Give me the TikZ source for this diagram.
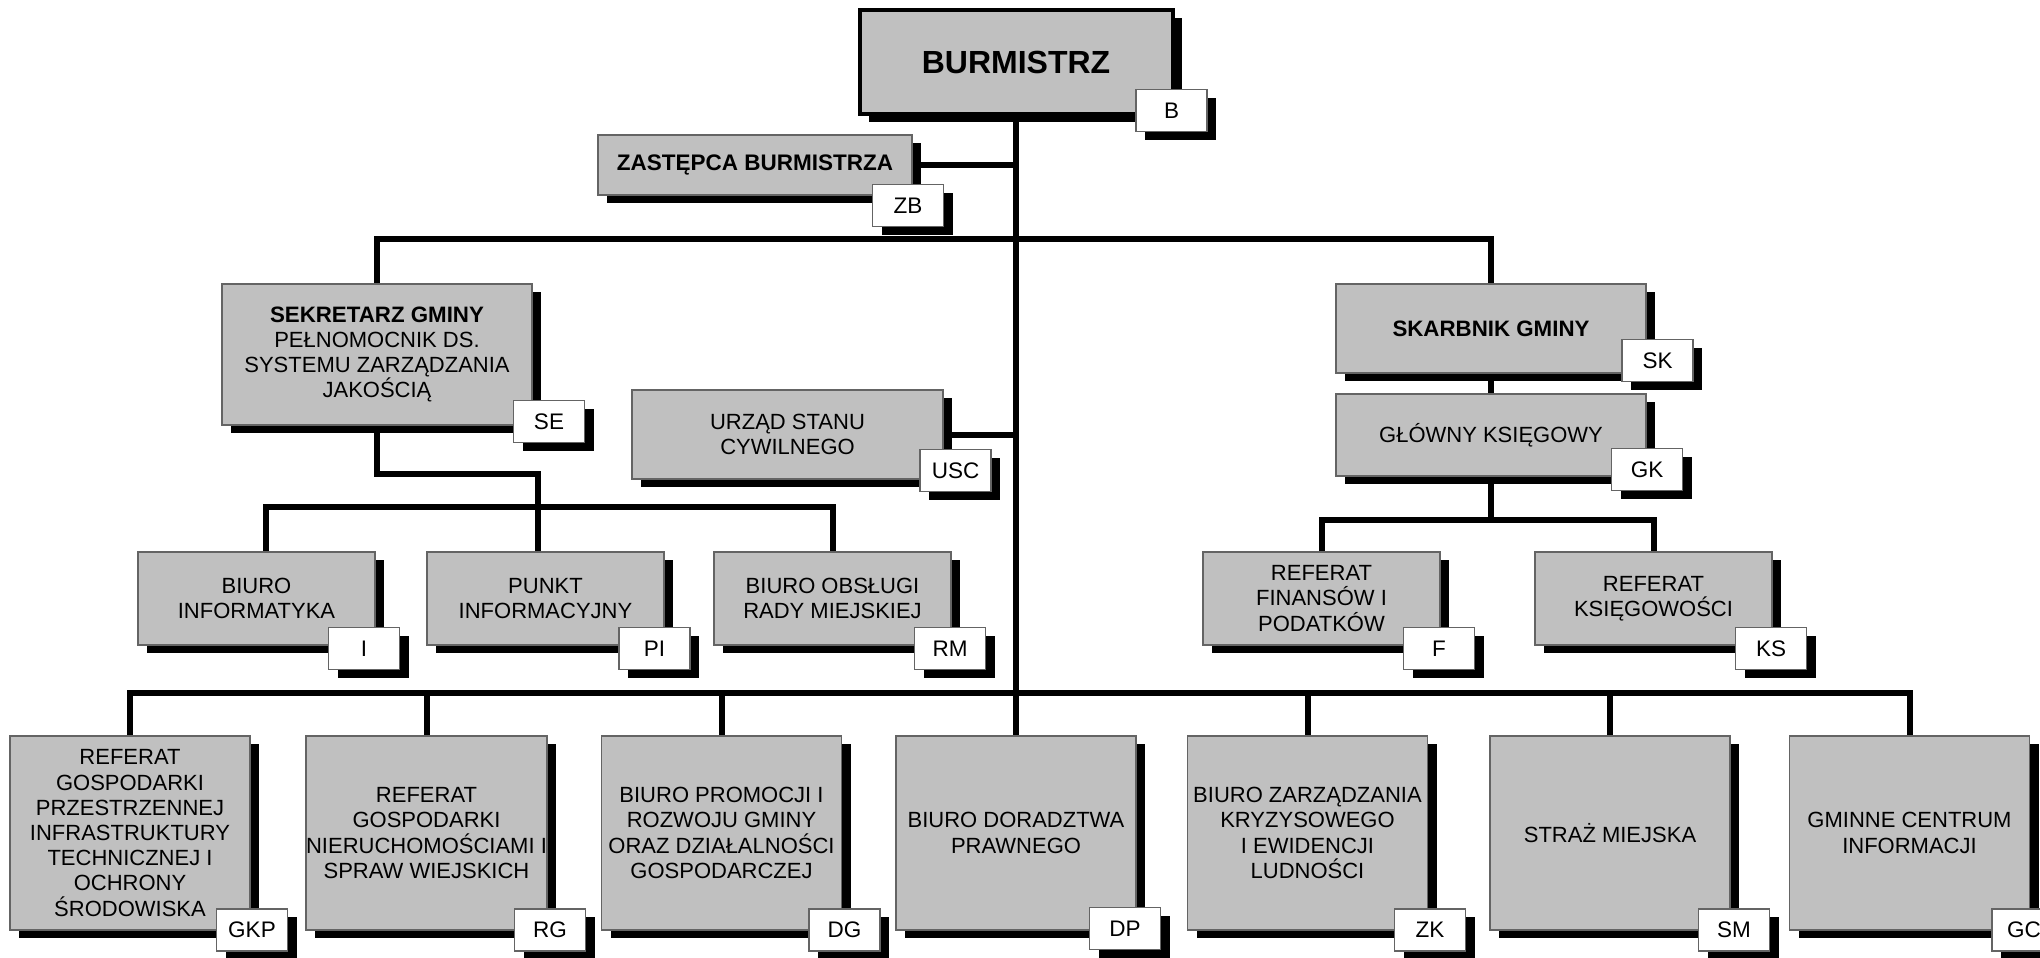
\documentclass[tikz,border=0pt]{standalone}
\usepackage{fontspec}
\setmainfont{Liberation Sans}
\usetikzlibrary{shadows,backgrounds}
\definecolor{boxgray}{RGB}{192,192,192}
\definecolor{edgegray}{RGB}{100,100,100}
\begin{document}
\begin{tikzpicture}[x=1pt,y=-1pt,
  shad/.style={drop shadow={shadow xshift=9pt,shadow yshift=-8pt,fill=black,opacity=1}},
  unit/.style={shad,rectangle,fill=boxgray,draw=edgegray,line width=1.5pt,inner sep=0pt,
    align=center,font=\fontsize{22}{25.2}\selectfont},
  headbox/.style={unit,draw=black,line width=4pt},
  lab/.style={shad,rectangle,fill=white,draw=edgegray,line width=1.5pt,inner sep=0pt,
    minimum width=71pt,minimum height=42pt,font=\fontsize{22.5}{25}\selectfont},
  row2/.style={unit,minimum width=237pt,minimum height=93pt},
  row3/.style={unit,minimum width=240pt,minimum height=194pt},
  conn/.style={line width=6pt,black,line join=miter},
  bfh/.style={font=\fontsize{22.3}{25.2}\selectfont\bfseries}
]
\useasboundingbox (0,0) rectangle (2040,958);

% top level
\node[headbox,minimum width=313pt,minimum height=104pt,font=\fontsize{32}{36}\selectfont\bfseries] (bur) at (1016,62) {BURMISTRZ};
\node[lab] (burl) at (1171.5,110.5) {B};

\node[unit,minimum width=314pt,minimum height=60pt,font=\fontsize{22.5}{25}\selectfont\bfseries] (zast) at (755,165) {ZASTĘPCA BURMISTRZA};
\node[lab] (zastl) at (908,205.5) {ZB};

\node[unit,minimum width=310pt,minimum height=141pt] (se) at (377,354.5) {\textbf{\fontsize{22.3}{25.2}\selectfont SEKRETARZ GMINY}\\PEŁNOMOCNIK DS.\\SYSTEMU ZARZĄDZANIA\\JAKOŚCIĄ};
\node[lab] (sel) at (549,421.5) {SE};

\node[unit,minimum width=311pt,minimum height=89pt] (usc) at (787.5,434.5) {URZĄD STANU\\CYWILNEGO};
\node[lab] (uscl) at (955.5,470.5) {USC};

\node[unit,minimum width=310pt,minimum height=89pt,bfh] (sk) at (1491,328.5) {SKARBNIK GMINY};
\node[lab] (skl) at (1657.5,360.5) {SK};

\node[unit,minimum width=310pt,minimum height=82pt] (gk) at (1491,435) {GŁÓWNY KSIĘGOWY};
\node[lab] (gkl) at (1647,469.5) {GK};

% second row
\node[row2] (bi) at (256.5,598.5) {BIURO\\INFORMATYKA};
\node[lab] (bil) at (364,648.5) {I};
\node[row2] (pi) at (545.5,598.5) {PUNKT\\INFORMACYJNY};
\node[lab] (pil) at (654.5,648.5) {PI};
\node[row2] (rm) at (832.5,598.5) {BIURO OBSŁUGI\\RADY MIEJSKIEJ};
\node[lab] (rml) at (950,648.5) {RM};
\node[row2] (rf) at (1321.5,598.5) {REFERAT\\FINANSÓW I\\PODATKÓW};
\node[lab] (rfl) at (1439,648.5) {F};
\node[row2] (rk) at (1653.5,598.5) {REFERAT\\KSIĘGOWOŚCI};
\node[lab] (rkl) at (1771,648.5) {KS};

% third row
\node[row3] (gkp) at (130,833) {REFERAT\\GOSPODARKI\\PRZESTRZENNEJ\\INFRASTRUKTURY\\TECHNICZNEJ I\\OCHRONY\\ŚRODOWISKA};
\node[lab] (gkpl) at (252,930) {GKP};
\node[row3] (rg) at (426.5,833) {REFERAT\\GOSPODARKI\\NIERUCHOMOŚCIAMI I\\SPRAW WIEJSKICH};
\node[lab] (rgl) at (550,930) {RG};
\node[row3] (dg) at (721.5,833) {BIURO PROMOCJI I\\ROZWOJU GMINY\\ORAZ DZIAŁALNOŚCI\\GOSPODARCZEJ};
\node[lab] (dgl) at (844.5,930) {DG};
\node[row3] (dp) at (1016,833) {BIURO DORADZTWA\\PRAWNEGO};
\node[lab] (dpl) at (1125,928.5) {DP};
\node[row3] (zk) at (1307.5,833) {BIURO ZARZĄDZANIA\\KRYZYSOWEGO\\I EWIDENCJI\\LUDNOŚCI};
\node[lab] (zkl) at (1430,930) {ZK};
\node[row3] (sm) at (1610,833) {STRAŻ MIEJSKA};
\node[lab] (sml) at (1734,930) {SM};
\node[row3] (gc) at (1909.5,833) {GMINNE CENTRUM\\INFORMACJI};
\node[lab,text width=71pt,align=left] (gcl) at (2027.5,930) {\hspace*{15pt}GC};

% connectors
\coordinate (tb) at (1016,239);
\coordinate (sejog) at (538,474);
\coordinate (r2bus) at (538,507);
\coordinate (gkbus) at (1491,520);
\coordinate (bb) at (1016,693);
\coordinate (bid) at (266,552);
\begin{scope}[on background layer]
\fill[white] (0,0) rectangle (2040,958);
\draw[conn] (bur.south) -- (dp.north);
\draw[conn] (zast.east) -- (zast.east -| tb);
\draw[conn] (se.north) |- (tb) -| (sk.north);
\draw[conn] (usc.east) -- (usc.east -| tb);
\draw[conn] (se.south) |- (sejog) -- (sejog |- pi.north);
\draw[conn] (bid) |- (r2bus) -| (rm.north);
\draw[conn] (sk.south) -- (gk.north);
\draw[conn] (gk.south) -- (gkbus);
\draw[conn] (rf.north) |- (gkbus) -| (rk.north);
\draw[conn] (gkp.north) |- (bb) -| (gc.north);
\draw[conn] (rg.north) -- (rg.north |- bb);
\draw[conn] (dg.north) -- (dg.north |- bb);
\draw[conn] (zk.north) -- (zk.north |- bb);
\draw[conn] (sm.north) -- (sm.north |- bb);
\end{scope}
\end{tikzpicture}
\end{document}
